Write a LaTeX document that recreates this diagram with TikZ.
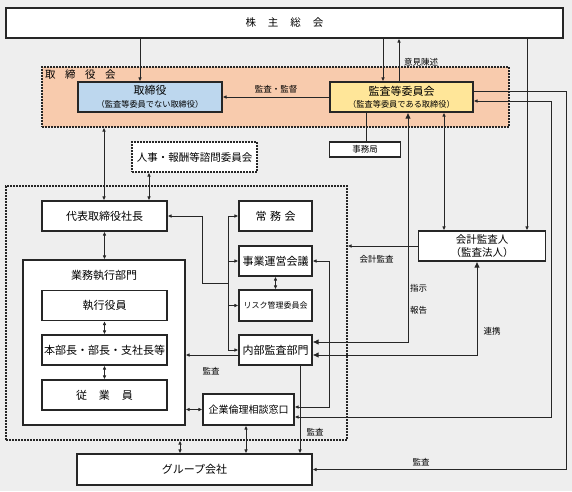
\documentclass[tikz,border=0pt]{standalone}
\usepackage{fontspec}
\setmainfont{Noto Sans CJK JP}
\usetikzlibrary{arrows.meta,calc}
\definecolor{bgc}{HTML}{EEEEEE}
\definecolor{orng}{HTML}{F8CBAD}
\definecolor{blu}{HTML}{BDD7EE}
\definecolor{ylw}{HTML}{FFE699}
\definecolor{ln}{HTML}{262626}
\newcommand{\fs}[1]{\fontsize{#1}{#1}\selectfont}
\tikzset{
  box/.style={draw=ln, line width=1.2pt, fill=white, inner sep=0pt, align=center, font=\fs{11}},
  region/.style={draw=ln, line width=1.1pt, dash pattern=on 2pt off 1pt, inner sep=0pt},
  conn/.style={draw=ln, line width=0.9pt},
  lbl/.style={font=\fs{8.5}, inner sep=0pt},
  >={Latex[length=4pt,width=3.6pt]},
  bigtip/.style={{Latex[length=6pt,width=5.5pt]}-{Latex[length=6pt,width=5.5pt]}}
}
\begin{document}
\begin{tikzpicture}[x=1pt,y=-1pt]
\useasboundingbox (0,0) rectangle (572,491);
\fill[bgc] (0,0) rectangle (572,491);
% regions
\node[region, fill=orng, minimum width=467pt, minimum height=60pt] (torireg) at (275.5,97) {};
\node[font=\fs{10.5}, anchor=west, inner sep=0pt] (toritxt) at (45,75) {取\hspace{9.5pt}締\hspace{9.5pt}役\hspace{9.5pt}会};
\node[region, minimum width=341pt, minimum height=254pt] (bigreg) at (176.5,313) {};
% boxes
\node[box, minimum width=557pt, minimum height=30pt, font=\fs{10.5}] (kabu) at (284.5,23) {株\hspace{12pt}主\hspace{12pt}総\hspace{12pt}会};
\node[box, fill=blu, minimum width=144pt, minimum height=30pt] (tori) at (150,97) {\fs{11}取締役\\[1.5pt]\fs{8.2}（監査等委員でない取締役）};
\node[box, fill=ylw, minimum width=143pt, minimum height=30pt] (kansa) at (401.5,97) {\fs{11}監査等委員会\\[1.5pt]\fs{8.2}（監査等委員である取締役）};
\node[box, minimum width=71pt, minimum height=15pt, font=\fs{8.5}] (jimu) at (365,149.5) {事務局};
\node[box, region, fill=white, minimum width=125pt, minimum height=30pt, font=\fs{10.5}] (jinji) at (194.5,157) {人事・報酬等諮問委員会};
\node[box, minimum width=125pt, minimum height=30pt] (daihyo) at (104.5,216) {代表取締役社長};
\node[box, minimum width=162pt, minimum height=165pt] (gyomu) at (104,342.5) {};
\node[font=\fs{11}, inner sep=0pt] (gyomutxt) at (104,275) {業務執行部門};
\node[box, minimum width=125pt, minimum height=30pt] (shikko) at (104.5,305.5) {執行役員};
\node[box, minimum width=125pt, minimum height=30pt] (honbu) at (104.5,350) {本部長・部長・支社長等};
\node[box, minimum width=125pt, minimum height=30pt] (jugyo) at (104.5,395) {従\hspace{12pt}業\hspace{12pt}員};
\node[box, minimum width=73pt, minimum height=30pt] (joumu) at (275.5,216) {常\hspace{3.5pt}務\hspace{3.5pt}会};
\node[box, minimum width=73pt, minimum height=30pt] (jigyo) at (275.5,261) {事業運営会議};
\node[box, minimum width=73pt, minimum height=31pt, font=\fs{8}] (risk) at (275.5,305.5) {リスク管理委員会};
\node[box, minimum width=73pt, minimum height=30pt] (naibu) at (275.5,350) {内部監査部門};
\node[box, minimum width=91pt, minimum height=31pt, font=\fs{10}] (rinri) at (248.5,409.5) {企業倫理相談窓口};
\node[box, minimum width=235pt, minimum height=31pt] (group) at (194.5,469.5) {グループ会社};
\node[box, minimum width=127pt, minimum height=30pt, font=\fs{10.5}] (kaikei) at (482,246) {会計監査人\\[2pt]（監査法人）};
% x positions
\coordinate (x140) at (140,0);
\coordinate (x383) at (383,0);
\coordinate (x399) at (399,0);
\coordinate (x366) at (366,0);
\coordinate (x104) at (104,0);
\coordinate (x149) at (149,0);
\coordinate (x228) at (228,0);
\coordinate (x300) at (300,0);
\coordinate (x408) at (408,0);
\coordinate (x477) at (477,0);
\coordinate (x444) at (444,0);
\coordinate (x527) at (527,0);
\coordinate (x246) at (246,0);
\coordinate (x180) at (180,0);
\coordinate (j1) at (228,283);
% connectors
\draw[conn,->] (kabu.south -| x140) -- (tori.north -| x140);
\draw[conn,->] (kabu.south -| x383) -- (kansa.north -| x383);
\draw[conn,->] (kansa.north -| x399) -- (kabu.south -| x399);
\node[lbl] (l1) at (421,62) {意見陳述};
\draw[conn,->] (kansa.west) -- (tori.east);
\node[lbl] (l2) at (276,89.5) {監査・監督};
\draw[conn] (kansa.south -| x366) -- (jimu.north -| x366);
\draw[conn,<->] (torireg.south -| x104) -- (daihyo.north -| x104);
\draw[conn,<->] (jinji.south -| x149) -- (daihyo.north -| x149);
\draw[conn,<->] (daihyo.south) -- (daihyo.south |- gyomu.north);
\draw[conn,->] (j1) -- ++(-26,0) |- (daihyo.east);
\draw[conn] (joumu.west -| x228) -- (naibu.west -| x228);
\draw[conn,->] (joumu.west -| x228) -- (joumu.west);
\draw[conn,->] (jigyo.west -| x228) -- (jigyo.west);
\draw[conn,->] (risk.west -| x228) -- (risk.west);
\draw[conn,->] (naibu.west -| x228) -- (naibu.west);
\draw[conn,<->] (jigyo.south) -- (risk.north);
\draw[conn,<->] (jigyo.east) -- ++(17,0) |- ([yshift=2.5pt]rinri.east);
\draw[conn,->] ([yshift=-5pt]naibu.west) -- ([yshift=-5pt]naibu.west -| gyomu.east);
\node[lbl] (l3) at (211,371) {監査};
\draw[conn,->] (naibu.south -| x300) -- (group.north -| x300);
\node[lbl] (l4) at (315,432) {監査};
\draw[conn,bigtip] ([yshift=8pt]naibu.east) -| (kansa.south -| x408);
\node[lbl] (l5) at (418.5,288.5) {指示};
\node[lbl] (l6) at (418.5,310) {報告};
\draw[conn,bigtip] ([yshift=-5pt]naibu.east) -| (kaikei.south -| x477);
\node[lbl] (l7) at (492,331) {連携};
\draw[conn,->] (kaikei.west) -- (kaikei.west -| bigreg.east);
\node[lbl] (l8) at (376.5,259) {会計監査};
\draw[conn,<->] (kansa.south -| x444) -- (kaikei.north -| x444);
\draw[conn,->] (kabu.south -| x527) -- (kaikei.north -| x527);
\draw[conn,->] ([yshift=6pt]kansa.east) -- ++(93,0) |- (group.east);
\node[lbl] (l9) at (421,462) {監査};
\draw[conn,<->] ([yshift=-7.5pt]rinri.east) -- ++(257,0) |- ([yshift=-4pt]kansa.east);
\draw[conn,<->] (rinri.west) -- (rinri.west -| gyomu.east);
\draw[conn,<->] (rinri.south -| x246) -- (group.north -| x246);
\draw[conn,<->] (bigreg.south -| x180) -- (group.north -| x180);
\draw[conn,<->] (shikko.south) -- (honbu.north);
\draw[conn,<->] (honbu.south) -- (jugyo.north);
\end{tikzpicture}
\end{document}
